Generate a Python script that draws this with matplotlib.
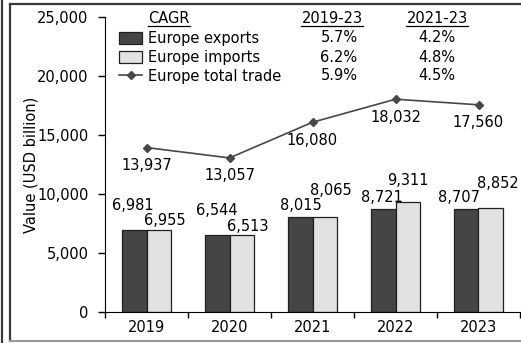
import matplotlib
matplotlib.use("Agg")
import matplotlib.pyplot as plt
from matplotlib.lines import Line2D
from matplotlib.patches import Patch
import numpy as np

plt.rcParams['font.family'] = ['DejaVu Sans']
FS = 10.5
plt.rcParams['font.size'] = FS

# Europe merchandise trade, USD billion
years = ['2019', '2020', '2021', '2022', '2023']
exports = [6981, 6544, 8015, 8721, 8707]
imports = [6955, 6513, 8065, 9311, 8852]
total_trade = [13937, 13057, 16080, 18032, 17560]

series_names = ['Europe exports', 'Europe imports', 'Europe total trade']
cagr_periods = ['2019-23', '2021-23']
cagr_19_23 = ['5.7%', '6.2%', '5.9%']
cagr_21_23 = ['4.2%', '4.8%', '4.5%']

# label nudges in pixels (dx, dy above bar top) so labels don't collide
exp_dx = [-2, -1, 0, -2, -7]
exp_dy = [24, 24, 12, 12, 12]
imp_dx = [6, 6, 6, 0, 7]
imp_dy = [9, 9, 26, 22, 24]

W, H = 521, 343
fig = plt.figure(figsize=(W / 100, H / 100), dpi=100)
ax = fig.add_axes([105 / W, 1 - 312 / H, 415 / W, 295 / H])

def fx(x):
    return x / W

def fy(y):
    return 1 - y / H

dark = '#454545'
light = '#e2e2e2'
edge = '#202020'
line_col = '#474747'

x = np.arange(len(years))
bw = 0.29
ax.bar(x - bw / 2, exports, bw, color=dark, edgecolor=edge, linewidth=0.9)
ax.bar(x + bw / 2, imports, bw, color=light, edgecolor=edge, linewidth=0.9)
ax.plot(x, total_trade, color=line_col, linewidth=1.2, marker='D', markersize=4.5)

for i in range(len(years)):
    ax.annotate(f'{exports[i]:,}', (x[i] - bw / 2, exports[i]),
                xytext=(exp_dx[i], exp_dy[i]), textcoords='offset pixels',
                ha='center', va='center')
    ax.annotate(f'{imports[i]:,}', (x[i] + bw / 2, imports[i]),
                xytext=(imp_dx[i], imp_dy[i]), textcoords='offset pixels',
                ha='center', va='center')
    ax.annotate(f'{total_trade[i]:,}', (x[i], total_trade[i]),
                xytext=(0, -18), textcoords='offset pixels',
                ha='center', va='center')

ax.set_xlim(-0.5, len(years) - 0.5)
ax.set_ylim(0, 25000)
ax.set_yticks(np.arange(0, 25001, 5000))
ax.set_yticklabels([f'{v:,}' for v in range(0, 25001, 5000)])
ax.set_xticks(np.arange(-0.5, len(years), 1.0))
ax.set_xticklabels([])
ax.set_xticks(x, minor=True)
ax.set_xticklabels(years, minor=True)
ax.tick_params(axis='x', which='major', length=4, direction='out', width=1)
ax.tick_params(axis='x', which='minor', length=0, pad=6)
ax.tick_params(axis='y', length=5, direction='out', width=1, pad=7)
for s in ['top', 'right']:
    ax.spines[s].set_visible(False)
ax.set_ylabel('Value (USD billion)')
ax.yaxis.set_label_coords(-0.16, 0.5)

handles = [Patch(facecolor=dark, edgecolor=edge, linewidth=0.9),
           Patch(facecolor=light, edgecolor=edge, linewidth=0.9),
           Line2D([], [], color=line_col, linewidth=1.2, marker='D', markersize=4.5)]
fig.legend(handles, series_names, loc='upper left',
           bbox_to_anchor=(fx(119), fy(31)), frameon=False, borderpad=0,
           borderaxespad=0, handlelength=1.6, handleheight=0.85,
           handletextpad=0.4, labelspacing=0.27)

# CAGR table headers and values
rend = fig.canvas.get_renderer()
headers = [('CAGR', 148, 'left'), (cagr_periods[0], 332, 'center'),
           (cagr_periods[1], 437, 'center')]
for txt, px, ha in headers:
    t = fig.text(fx(px), fy(23), txt, ha=ha, va='baseline')
    bb = t.get_window_extent(rend)
    fig.add_artist(Line2D([bb.x0 / W, bb.x1 / W], [fy(26), fy(26)],
                          color='black', linewidth=0.9, transform=fig.transFigure))
row_y = [38, 57, 76]
for j in range(3):
    fig.text(fx(339), fy(row_y[j]), cagr_19_23[j], ha='center', va='center')
    fig.text(fx(437), fy(row_y[j]), cagr_21_23[j], ha='center', va='center')

# surrounding frame lines
frame = '#3a3a3a'
fig.add_artist(Line2D([fx(1.5), fx(1.5)], [0, 1], color=frame, linewidth=1.6,
                      transform=fig.transFigure))
fig.add_artist(Line2D([fx(9.5), fx(9.5)], [fy(341), fy(3.5)], color=frame, linewidth=1.6,
                      transform=fig.transFigure))
fig.add_artist(Line2D([fx(9.5), 1], [fy(3.5), fy(3.5)], color=frame, linewidth=1.6,
                      transform=fig.transFigure))
fig.add_artist(Line2D([fx(9.5), 1], [fy(341), fy(341)], color='#9a9a9a', linewidth=1.5,
                      transform=fig.transFigure))

fig.savefig('out.png', dpi=100)
